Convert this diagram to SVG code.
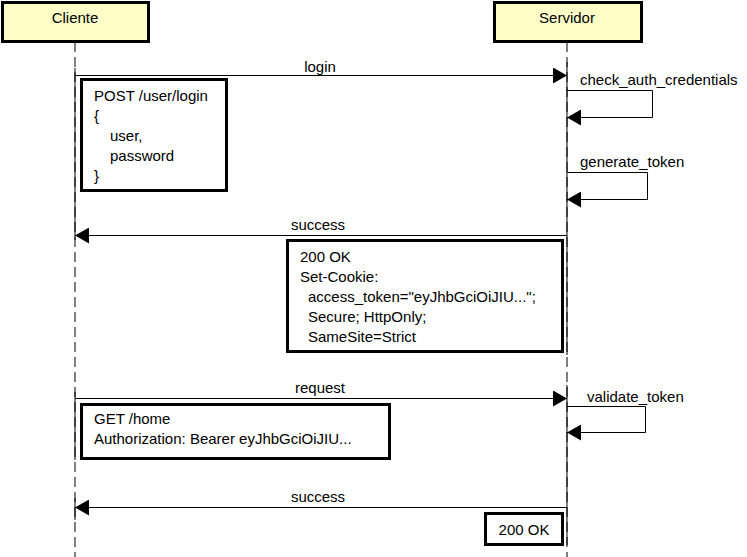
<svg xmlns="http://www.w3.org/2000/svg" width="747" height="557" viewBox="0 0 747 557">
  <style>
    text { font-family: "Liberation Sans", Arial, sans-serif; font-size: 15px; fill: #000; }
    .actor { fill: #ffffc8; stroke: #000; stroke-width: 3; }
    .note { fill: #fff; stroke: #000; stroke-width: 3; }
    .life { stroke: #000; stroke-width: 1; stroke-dasharray: 10 5; fill: none; }
    .act { stroke: #000; stroke-width: 1; fill: none; }
    .msg { stroke: #000; stroke-width: 1; fill: none; }
    .mid { text-anchor: middle; }
  </style>
  <defs>
    <marker id="arrow" viewBox="0 0 14 16" refX="14" refY="8" markerWidth="14" markerHeight="16" markerUnits="userSpaceOnUse" orient="auto">
      <path d="M0,0 L14,8 L0,16 Z" fill="#000"/>
    </marker>
  </defs>

  <!-- lifelines -->
  <g id="lifelines">
    <line class="life" x1="75" y1="42" x2="75" y2="557"/>
    <line class="life" x1="567" y1="42" x2="567" y2="557"/>
    <line class="act" x1="75" y1="68" x2="75" y2="240"/>
    <line class="act" x1="75" y1="392" x2="75" y2="460"/>
    <line class="act" x1="75" y1="498" x2="75" y2="520"/>
    <line class="act" x1="567" y1="62" x2="567" y2="355"/>
    <line class="act" x1="567" y1="385" x2="567" y2="545"/>
  </g>

  <!-- participants -->
  <g id="cliente">
    <rect class="actor" x="2.5" y="2.5" width="146" height="39"/>
    <text class="mid" x="75" y="23">Cliente</text>
  </g>
  <g id="servidor">
    <rect class="actor" x="494.5" y="2.5" width="147" height="39"/>
    <text class="mid" x="567" y="23">Servidor</text>
  </g>

  <!-- messages -->
  <g id="connectors">
    <line class="msg" x1="75" y1="75.5" x2="567" y2="75.5" marker-end="url(#arrow)"/>
    <text class="mid" x="320" y="72">login</text>

    <polyline class="msg" points="567,90.5 652.5,90.5 652.5,117.5 567,117.5" marker-end="url(#arrow)"/>
    <text x="580" y="85">check_auth_credentials</text>

    <polyline class="msg" points="567,172.5 647.5,172.5 647.5,199.5 567,199.5" marker-end="url(#arrow)"/>
    <text x="580" y="167">generate_token</text>

    <line class="msg" x1="567" y1="235.5" x2="75" y2="235.5" marker-end="url(#arrow)"/>
    <text class="mid" x="318" y="230">success</text>

    <line class="msg" x1="75" y1="398.5" x2="567" y2="398.5" marker-end="url(#arrow)"/>
    <text class="mid" x="320" y="393">request</text>

    <polyline class="msg" points="567,406.5 645.5,406.5 645.5,432.5 567,432.5" marker-end="url(#arrow)"/>
    <text x="587" y="402">validate_token</text>

    <line class="msg" x1="567" y1="507.5" x2="75" y2="507.5" marker-end="url(#arrow)"/>
    <text class="mid" x="318" y="502">success</text>
  </g>

  <!-- notes -->
  <g id="note-login">
    <rect class="note" x="81.5" y="79.5" width="145" height="111"/>
    <text x="94" y="101">POST /user/login</text>
    <text x="94" y="121">{</text>
    <text x="110" y="141">user,</text>
    <text x="110" y="161">password</text>
    <text x="94" y="181">}</text>
  </g>
  <g id="note-cookie">
    <rect class="note" x="287.5" y="240.5" width="275" height="111"/>
    <text x="300" y="262">200 OK</text>
    <text x="300" y="282">Set-Cookie:</text>
    <text x="308" y="302">access_token="eyJhbGciOiJIU...";</text>
    <text x="308" y="322">Secure; HttpOnly;</text>
    <text x="308" y="342">SameSite=Strict</text>
  </g>
  <g id="note-request">
    <rect class="note" x="81.5" y="404.5" width="308" height="54"/>
    <text x="94" y="424">GET /home</text>
    <text x="94" y="444">Authorization: Bearer eyJhbGciOiJIU...</text>
  </g>
  <g id="note-ok">
    <rect class="note" x="485.5" y="513.5" width="77" height="31"/>
    <text class="mid" x="524" y="535">200 OK</text>
  </g>
</svg>
